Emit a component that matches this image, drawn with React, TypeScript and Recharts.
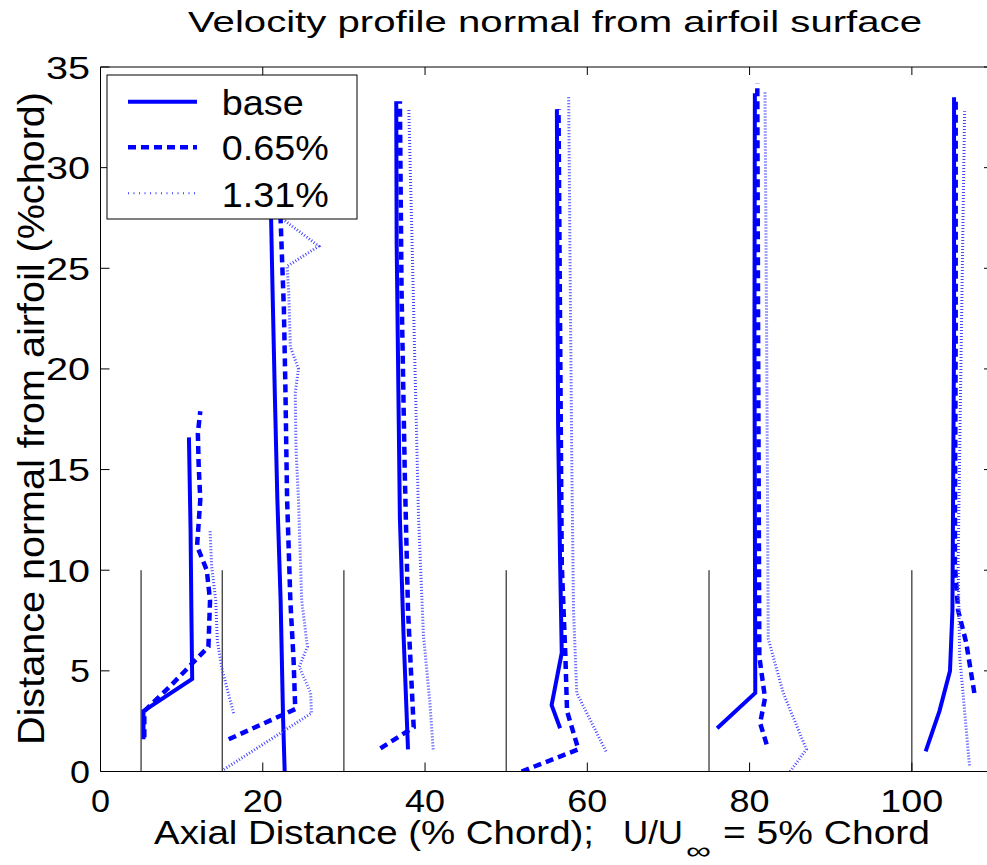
import { LineChart, Line, XAxis, YAxis, ReferenceLine } from "recharts";

// profile stations along the chord (% chord)
const stations = [5, 15, 30, 50, 75, 100];
const xTicks = [0, 20, 40, 60, 80, 100];
const yTicks = [0, 5, 10, 15, 20, 25, 30, 35];

// [axial position, distance normal]
const base5 = [[5.3, 1.6], [5.3, 3.0], [11.3, 4.6], [11.2, 8.0], [11.1, 12.0], [10.9, 16.6]];
const base15 = [[22.7, 0], [22.5, 2.7], [22.2, 8.5], [21.8, 13.5], [21.5, 18.5], [21.2, 24], [21.0, 28], [20.9, 33]];
const base30 = [[37.9, 1.1], [37.35, 6.8], [36.9, 12.6], [36.7, 19.4], [36.5, 26.3], [36.45, 33.3]];
const base50 = [[56.65, 2.15], [55.6, 3.3], [56.85, 5.9], [56.65, 10.3], [56.4, 17.1], [56.3, 26.3], [56.25, 32.9]];
const base75 = [[76.0, 2.15], [80.7, 3.9], [80.6, 21.7], [80.65, 33.7]];
const base100 = [[101.7, 1.0], [103.4, 3.0], [104.7, 5.0], [105.0, 8.0], [105.2, 21.7], [105.2, 33.5]];

const p065_5 = [[5.4, 1.7], [5.4, 3.0], [8.5, 4.2], [13.3, 6.2], [13.5, 8.5], [13.1, 10.0], [11.9, 11.2], [12.3, 13.5], [12.1, 15.2], [12.0, 16.8], [12.3, 17.9]];
const p065_15 = [[15.8, 1.6], [24.0, 3.1], [23.8, 5.5], [23.4, 8.5], [23.0, 13.5], [22.9, 16], [22.8, 18.8], [22.6, 23.0], [22.2, 27.4], [22.0, 33]];
const p065_30 = [[34.5, 1.15], [38.6, 2.2], [37.9, 8.0], [37.5, 14.85], [37.1, 24.0], [36.9, 33.3]];
const p065_50 = [[51.9, 0.0], [58.9, 1.1], [57.5, 3.0], [57.3, 5.7], [56.85, 10.3], [56.65, 21.7], [56.45, 32.9]];
const p065_75 = [[82.1, 1.35], [81.3, 2.4], [81.9, 3.65], [81.2, 5.7], [81.05, 21.7], [80.95, 34.2]];
const p065_100 = [[107.7, 3.9], [106.7, 6.4], [105.7, 8.0], [105.3, 10.3], [105.4, 21.7], [105.4, 33.5]];

const p131_5 = [[16.4, 2.9], [15.0, 5.05], [14.4, 6.5], [14.2, 8.5], [13.7, 10.2], [13.5, 12.0]];
const p131_15 = [[15.2, 0.1], [26.0, 2.9], [25.9, 3.9], [24.5, 5.2], [25.5, 6.2], [24.8, 8.5], [24.4, 13.5], [24.1, 16], [24.0, 18.8], [24.4, 20.0], [23.4, 21.1], [23.2, 23.8], [23.0, 25.1], [26.9, 26.1], [22.6, 27.4], [22.4, 33]];
const p131_30 = [[41.0, 1.1], [40.6, 3.4], [39.8, 6.8], [39.2, 12.6], [38.8, 19.4], [38.4, 26.3], [38.0, 32.9]];
const p131_50 = [[62.3, 1.0], [58.7, 3.9], [58.3, 8.0], [58.1, 14.85], [57.9, 24.0], [57.7, 33.6]];
const p131_75 = [[85.0, 0.0], [87.0, 1.1], [84.15, 3.9], [82.3, 6.6], [82.1, 21.7], [81.9, 33.8]];
const p131_100 = [[107.1, 0.3], [106.5, 3.0], [105.9, 5.7], [105.7, 10.3], [106.1, 21.7], [106.5, 32.8]];

const baseSet = [base5, base15, base30, base50, base75, base100];
const p065Set = [p065_5, p065_15, p065_30, p065_50, p065_75, p065_100];
const p131Set = [p131_5, p131_15, p131_30, p131_50, p131_75, p131_100];

const FONT = "'Liberation Sans', Arial, sans-serif";
const BLUE = "#0000ff";
const LIGHT = "#4646ff";

const styles = {
  base: { stroke: BLUE, strokeWidth: 4, dash: undefined },
  p065: { stroke: BLUE, strokeWidth: 4.5, dash: "8 5" },
  p131: { stroke: LIGHT, strokeWidth: 3, dash: "1 2" },
};

const toPts = (arr: number[][]) => arr.map(([x, y]) => ({ x, y }));

const XTick = (props: any) => {
  const { x, y, payload } = props;
  const s = String(payload.value);
  const len = s.length === 1 ? 19 : s.length === 2 ? 40 : 63;
  return (
    <g>
      <line x1={x} x2={x} y1={y} y2={y - 9} stroke="#000" />
      <text x={x} y={y + 40} textAnchor="middle" fontSize={31} fontFamily={FONT}
        textLength={len} lengthAdjust="spacingAndGlyphs" fill="#000">{s}</text>
    </g>
  );
};

const YTick = (props: any) => {
  const { x, y, payload } = props;
  const s = String(payload.value);
  const len = s.length === 1 ? 20 : 44;
  return (
    <g>
      <line x1={x} x2={x + 9} y1={y} y2={y} stroke="#000" />
      <text x={x - 10.5} y={y + 11.5} textAnchor="end" fontSize={32} fontFamily={FONT}
        textLength={len} lengthAdjust="spacingAndGlyphs" fill="#000">{s}</text>
    </g>
  );
};

const TopTick = (props: any) => {
  const { x, y } = props;
  return <line x1={x} x2={x} y1={y} y2={y + 8} stroke="#000" />;
};

const RightTick = (props: any) => {
  const { x, y } = props;
  return <line x1={x} x2={x - 9} y1={y} y2={y} stroke="#000" />;
};

export default function App() {
  const series = [
    { key: "base", set: baseSet, st: styles.base },
    { key: "p065", set: p065Set, st: styles.p065 },
    { key: "p131", set: p131Set, st: styles.p131 },
  ];
  return (
    <div style={{ position: "fixed", left: 0, top: 0, width: 987, height: 865, overflow: "hidden", background: "#fff" }}>
      <LineChart width={1000} height={865} margin={{ top: 66, right: 6, bottom: 92.5, left: 99.5 }}>
        <XAxis type="number" dataKey="x" domain={[0, 110]} ticks={xTicks} height={1}
          tickSize={0} tickMargin={0} tick={<XTick />} axisLine={{ stroke: "#000" }} tickLine={false} allowDataOverflow />
        <XAxis xAxisId="top" orientation="top" type="number" dataKey="x" domain={[0, 110]} ticks={xTicks} height={1}
          tickSize={0} tickMargin={0} tick={<TopTick />} axisLine={{ stroke: "#000" }} tickLine={false} allowDataOverflow />
        <YAxis type="number" dataKey="y" domain={[0, 35]} ticks={yTicks} width={1}
          tickSize={0} tickMargin={0} tick={<YTick />} axisLine={{ stroke: "#000" }} tickLine={false} allowDataOverflow />
        <YAxis yAxisId="right" orientation="right" type="number" domain={[0, 35]} ticks={yTicks} width={1}
          tickSize={0} tickMargin={0} tick={<RightTick />} axisLine={{ stroke: "#000" }} tickLine={false} allowDataOverflow />
        {stations.map((s) => (
          <ReferenceLine key={"st" + s} segment={[{ x: s, y: 0 }, { x: s, y: 10 }]} stroke="#000" strokeWidth={1} />
        ))}
        {series.map((ser) =>
          ser.set.map((arr, i) => (
            <Line key={ser.key + i} data={toPts(arr)} dataKey="y" type="linear" dot={false}
              stroke={ser.st.stroke} strokeWidth={ser.st.strokeWidth} strokeDasharray={ser.st.dash}
              strokeLinejoin="miter" isAnimationActive={false} legendType="none" />
          ))
        )}
      </LineChart>
      <svg width={987} height={865} style={{ position: "absolute", left: 0, top: 0, pointerEvents: "none" }}
        fontFamily={FONT} fill="#000">
        <text x={188} y={32} fontSize={29} textLength={734} lengthAdjust="spacingAndGlyphs">
          Velocity profile normal from airfoil surface
        </text>
        <text transform="translate(44, 745) rotate(-90)" fontSize={37} textLength={653} lengthAdjust="spacingAndGlyphs">
          Distance normal from airfoil (%chord)
        </text>
        <text x={154} y={844} fontSize={34} textLength={440} lengthAdjust="spacingAndGlyphs">Axial Distance (% Chord);</text>
        <text x={623} y={844} fontSize={34} textLength={60} lengthAdjust="spacingAndGlyphs">U/U</text>
        <text x={686} y={859} fontSize={24} textLength={25} lengthAdjust="spacingAndGlyphs">∞</text>
        <text x={723} y={844} fontSize={34} textLength={207} lengthAdjust="spacingAndGlyphs">= 5% Chord</text>

        <rect x={107} y={75} width={250} height={144} fill="#fff" stroke="#000" strokeWidth={1} />
        <line x1={128} x2={197} y1={101.7} y2={101.7} stroke={BLUE} strokeWidth={styles.base.strokeWidth} />
        <line x1={128} x2={197} y1={147.3} y2={147.3} stroke={BLUE} strokeWidth={styles.p065.strokeWidth} strokeDasharray={styles.p065.dash} />
        <line x1={128} x2={197} y1={193.3} y2={193.3} stroke={LIGHT} strokeWidth={2} strokeDasharray="1 4.5" />
        <text x={221.7} y={115} fontSize={35} textLength={82} lengthAdjust="spacingAndGlyphs">base</text>
        <text x={221.7} y={160} fontSize={35} textLength={107} lengthAdjust="spacingAndGlyphs">0.65%</text>
        <text x={221.7} y={206.5} fontSize={35} textLength={107} lengthAdjust="spacingAndGlyphs">1.31%</text>
      </svg>
    </div>
  );
}
